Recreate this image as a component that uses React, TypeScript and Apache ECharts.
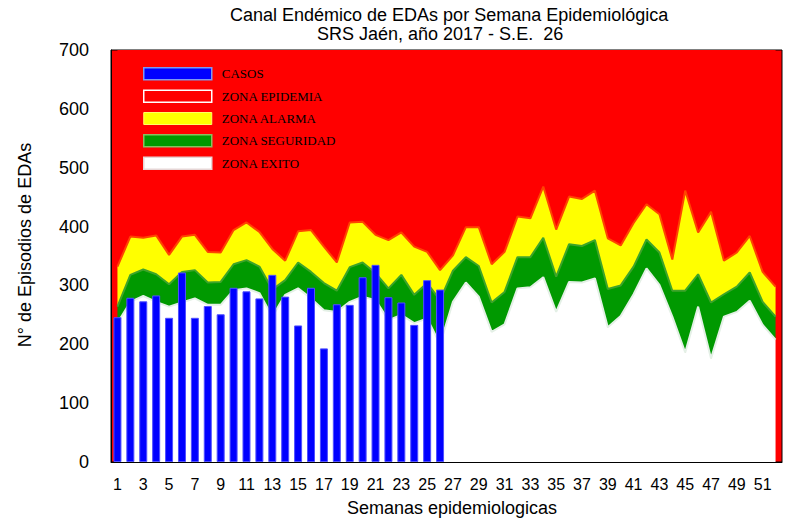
import React, { useEffect, useRef } from "react";
import * as echarts from "echarts";

const weeks = Array.from({ length: 52 }, (_, i) => String(i + 1));

const casos = [246, 279, 273, 283, 245, 322, 245, 265, 251, 296, 290, 278, 318, 281, 232, 296, 193, 268, 267, 314, 335, 280, 271, 233, 309, 293];

const exitoTop = [236, 272, 282, 272, 264, 271, 278, 267, 267, 292, 295, 287, 247, 284, 295, 278, 258, 255, 272, 281, 275, 241, 250, 236, 244, 200,
  272, 305, 281, 221, 234, 295, 297, 314, 255, 306, 305, 312, 229, 248, 285, 329, 301, 247, 186, 264, 176, 247, 255, 274, 233, 208];

const seguridadTop = [264, 318, 327, 319, 302, 323, 326, 305, 306, 336, 343, 332, 293, 309, 339, 323, 304, 291, 331, 339, 321, 295, 318, 284, 304, 275,
  325, 348, 333, 271, 289, 348, 348, 381, 315, 370, 367, 377, 294, 300, 332, 378, 356, 291, 291, 319, 271, 285, 298, 322, 272, 247];

const alarmaTop = [332, 383, 381, 385, 352, 383, 386, 357, 356, 394, 407, 391, 362, 342, 392, 394, 366, 339, 407, 408, 386, 377, 390, 366, 357, 326,
  351, 399, 399, 336, 357, 417, 414, 468, 395, 451, 447, 461, 380, 368, 406, 438, 421, 344, 461, 390, 425, 342, 356, 384, 323, 298];

const yMax = 700;
const titleLine1 = "Canal Endémico de EDAs por Semana Epidemiológica";
const titleLine2 = "SRS Jaén, año 2017 - S.E.  26";
const xName = "Semanas epidemiologicas";
const yName = "N° de Episodios de EDAs";

const SANS = "Liberation Sans, Arial, sans-serif";
const SERIF = "Liberation Serif, Times New Roman, serif";

export default function App() {
  const ref = useRef<HTMLDivElement>(null);
  useEffect(() => {
    const chart = echarts.init(ref.current!, null, { renderer: "svg" });
    const seg = seguridadTop.map((v, i) => v - exitoTop[i]);
    const ala = alarmaTop.map((v, i) => v - seguridadTop[i]);
    const epi = alarmaTop.map((v) => yMax - v);
    const option: any = {
      animation: false,
      textStyle: { fontFamily: SANS },
      grid: {
        left: 111, right: 8, top: 50, bottom: 58,
        show: true, backgroundColor: "#ff0000", borderColor: "#000", borderWidth: 1,
      },
      legend: {
        orient: "vertical", left: 143, top: 67, padding: 0, itemWidth: 68, itemHeight: 12, itemGap: 9,
        icon: "rect", selectedMode: false, z: 10,
        textStyle: { fontFamily: SERIF, fontSize: 13, color: "#000", padding: [0, 0, 0, 5] },
        data: [
          { name: "CASOS", itemStyle: { color: "#0000ff", borderColor: "#7f98f0", borderWidth: 1.5 } },
          { name: "ZONA EPIDEMIA", itemStyle: { color: "#ff0000", borderColor: "#ffffff", borderWidth: 1.5 } },
          { name: "ZONA ALARMA", itemStyle: { color: "#ffff00", borderColor: "#ffff66", borderWidth: 1 } },
          { name: "ZONA SEGURIDAD", itemStyle: { color: "#009900", borderColor: "#88c060", borderWidth: 1.5 } },
          { name: "ZONA EXITO", itemStyle: { color: "#ffffff", borderColor: "#e6d6d6", borderWidth: 1.5 } },
        ],
      },
      xAxis: {
        type: "category", data: weeks, boundaryGap: true,
        axisLine: { lineStyle: { color: "#000", width: 1 } },
        axisTick: { show: false },
        axisLabel: { interval: 1, fontSize: 16, color: "#000", margin: 14, fontFamily: SANS },
        splitLine: { show: false },
      },
      yAxis: {
        type: "value", min: 0, max: yMax, interval: 100,
        axisLine: { show: true, lineStyle: { color: "#000", width: 1 } },
        axisTick: { show: false },
        axisLabel: { fontSize: 18, color: "#000", margin: 22, fontFamily: SANS },
        splitLine: { show: false },
      },
      series: [
        {
          name: "ZONA EXITO", type: "line", stack: "z", data: exitoTop, symbol: "none", z: 2,
          itemStyle: { color: "#ffffff" },
          lineStyle: { color: "#e4f0e6", width: 2 },
          areaStyle: { color: "#ffffff", opacity: 1 },
        },
        {
          name: "ZONA SEGURIDAD", type: "line", stack: "z", data: seg, symbol: "none", z: 2,
          itemStyle: { color: "#009900" },
          lineStyle: { color: "#3ea42a", width: 2 },
          areaStyle: { color: "#009900", opacity: 1 },
        },
        {
          name: "ZONA ALARMA", type: "line", stack: "z", data: ala, symbol: "none", z: 2,
          itemStyle: { color: "#ffff00" },
          lineStyle: { color: "#ff4400", width: 2 },
          areaStyle: { color: "#ffff00", opacity: 1 },
        },
        {
          name: "ZONA EPIDEMIA", type: "line", stack: "z", data: epi, symbol: "none", z: 2,
          itemStyle: { color: "#ff0000" },
          lineStyle: { width: 0 },
          areaStyle: { color: "#ff0000", opacity: 1 },
        },
        {
          name: "CASOS", type: "bar", data: casos, barWidth: 8, z: 5,
          itemStyle: { color: "#0000ff", borderColor: "#5050ff", borderWidth: 1 },
        },
      ],
      graphic: [
        { type: "text", left: 230, top: 6, style: { text: titleLine1, font: `18px ${SANS}`, fill: "#000" } },
        { type: "text", left: 317, top: 25, style: { text: titleLine2, font: `18px ${SANS}`, fill: "#000" } },
        { type: "text", x: 452, y: 508, style: { text: xName, font: `18px ${SANS}`, fill: "#000", textAlign: "center", textVerticalAlign: "middle" } },
        { type: "text", x: 25, y: 245, rotation: Math.PI / 2, style: { text: yName, font: `18px ${SANS}`, fill: "#000", textAlign: "center", textVerticalAlign: "middle" } },
      ],
    };
    chart.setOption(option);
    return () => chart.dispose();
  }, []);
  return <div ref={ref} style={{ position: "absolute", left: 0, top: 0, width: 790, height: 520 }} />;
}
